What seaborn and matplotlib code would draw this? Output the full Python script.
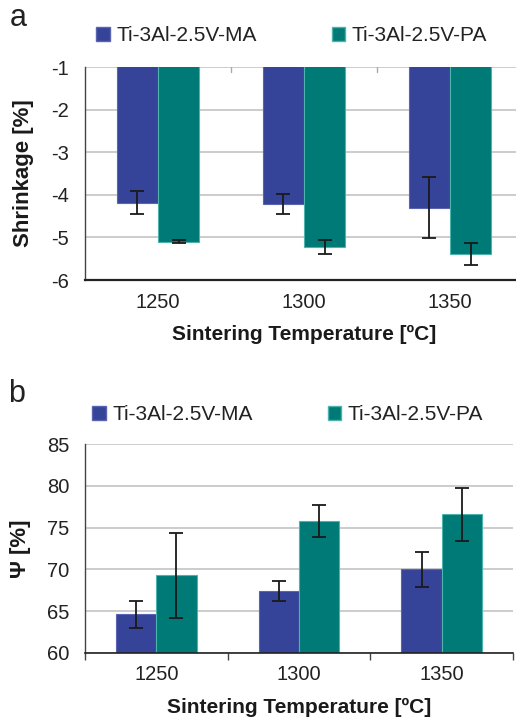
import numpy as np
import pandas as pd
import matplotlib
matplotlib.use("Agg")
import matplotlib.pyplot as plt
import matplotlib.patches as mpatches
import seaborn as sns

# data
temps = ["1250", "1300", "1350"]
series = ["Ti-3Al-2.5V-MA", "Ti-3Al-2.5V-PA"]

shrink_ma = [-4.19, -4.22, -4.30]
shrink_pa = [-5.10, -5.22, -5.38]
shrink_ma_err = [0.27, 0.24, 0.72]
shrink_pa_err = [0.04, 0.17, 0.26]

psi_ma = [64.6, 67.4, 70.0]
psi_pa = [69.3, 75.8, 76.6]
psi_ma_err = [1.6, 1.2, 2.1]
psi_pa_err = [5.1, 1.9, 3.2]

colors = ["#354398", "#007a76"]
edges = ["#5a64b0", "#4fb3ad"]

sns.set_theme(style="white")
plt.rcParams["font.family"] = ["Liberation Sans", "DejaVu Sans"]
plt.rcParams["axes.unicode_minus"] = False


def make_df(ma, pa):
    return pd.DataFrame({
        "temp": temps * 2,
        "series": [series[0]] * 3 + [series[1]] * 3,
        "value": list(ma) + list(pa),
    })


def draw_panel(ax, ma, pa, ma_err, pa_err, ylim, yticks, ylabel, tick_top,
               ylab_x):
    df = make_df(ma, pa)
    sns.barplot(
        data=df, x="temp", y="value", hue="series", order=temps,
        hue_order=series, palette=colors, width=0.565, errorbar=None,
        saturation=1, ax=ax, legend=False,
    )
    bars = [p for p in ax.patches if isinstance(p, mpatches.Rectangle)]
    vals = list(ma) + list(pa)
    errs = list(ma_err) + list(pa_err)
    for i, (bar, v, e) in enumerate(zip(bars, vals, errs)):
        bar.set_edgecolor(edges[i // 3])
        bar.set_linewidth(0.8)
        ax.errorbar(
            bar.get_x() + bar.get_width() / 2, v, yerr=e,
            fmt="none", ecolor="#1a1a1a", elinewidth=1.3,
            capsize=4.8, capthick=1.3, zorder=5,
        )
    ax.set_ylim(*ylim)
    ax.set_xlim(-0.5, 2.5)
    ax.set_yticks(yticks)
    ax.yaxis.grid(True, color="#c8c8c8", linewidth=1.3)
    ax.set_axisbelow(True)
    for s in ["top", "right"]:
        ax.spines[s].set_visible(False)
    ax.spines["left"].set_color("#444444")
    ax.spines["left"].set_linewidth(1.0)
    ax.spines["bottom"].set_color("#222222")
    ax.spines["bottom"].set_linewidth(1.6 if tick_top else 1.2)
    ax.tick_params(axis="y", which="major", length=5, width=1.0,
                   color="#777777", pad=6.5, labelsize=14.5,
                   labelcolor="#222222")
    ax.tick_params(axis="x", which="major", length=0, pad=9,
                   labelsize=14.5, labelcolor="#222222")
    if tick_top:
        for xb in [0.5, 1.5]:
            ax.axvline(xb, ymin=0.975, ymax=1.0, color="#aaaaaa", lw=1.0)
    else:
        ax.set_xticks([-0.5, 0.5, 1.5, 2.5], minor=True)
        ax.tick_params(axis="x", which="minor", length=5, width=1.0,
                       color="#444444", bottom=True)
    ax.set_xlabel("Sintering Temperature [ºC]", fontsize=15,
                  fontweight="bold", labelpad=10, color="#1a1a1a")
    ax.set_ylabel(ylabel, fontsize=16, fontweight="bold", color="#1a1a1a")
    ax.yaxis.set_label_coords(ylab_x, 0.5)


fig = plt.figure(figsize=(5.16, 7.22), dpi=100)

ax_a = fig.add_axes([85 / 516, 1 - 280 / 722, 438 / 516, 213 / 722])
draw_panel(ax_a, shrink_ma, shrink_pa, shrink_ma_err, shrink_pa_err,
           (-6, -1), [-6, -5, -4, -3, -2, -1], "Shrinkage [%]", True,
           (34 - 85) / 438)

ax_b = fig.add_axes([85 / 516, 1 - 652.7 / 722, 428 / 516, 208.4 / 722])
draw_panel(ax_b, psi_ma, psi_pa, psi_ma_err, psi_pa_err,
           (60, 85), [60, 65, 70, 75, 80, 85], "Ψ [%]", False,
           (31 - 85) / 428)

handles = [mpatches.Patch(facecolor=c, edgecolor=e, label=s)
           for c, e, s in zip(colors, edges, series)]
for x_leg, y_leg in [(88 / 516, 35.5 / 722), (84 / 516, 415 / 722)]:
    fig.legend(
        handles=handles, ncol=2, loc="center left",
        bbox_to_anchor=(x_leg, 1 - y_leg), frameon=False,
        fontsize=15, handlelength=0.65, handleheight=0.65,
        handletextpad=0.3, columnspacing=3.6, borderaxespad=0,
        labelcolor="#222222",
    )

fig.text(10 / 516, 1 - 26 / 722, "a", fontsize=22, color="#222222",
         va="baseline")
fig.text(8 / 516, 1 - 402 / 722, "b", fontsize=22, color="#222222",
         va="baseline")

fig.savefig("out.png", dpi=100)
